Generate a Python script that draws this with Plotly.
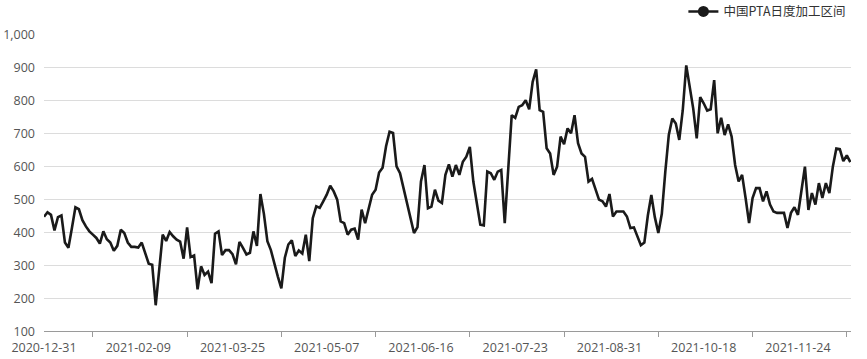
import plotly.graph_objects as go

# Daily PTA processing spread (trading days)
values = [
    446, 460, 452, 405, 445, 450, 368, 352, 412, 475, 469, 436, 417, 402, 392, 382, 365, 402, 378, 368,
    343, 358, 407, 397, 368, 355, 355, 353,
    368, 333, 304, 301, 178, 285, 392, 373, 400, 387, 377, 371, 319, 414, 324, 329, 226, 296, 270, 280,
    245, 395, 402, 330, 345, 345, 333,
    302, 370, 352, 332, 337, 402, 358, 515, 455, 372, 345, 302, 265, 229, 322, 362, 375, 327, 344, 335,
    392, 312, 442, 478, 473, 493, 513, 540,
    523, 498, 432, 427, 392, 407, 410, 377, 468, 427, 475, 513, 528, 580, 595, 660, 704, 700, 599, 578,
    533, 490, 445, 397, 415, 553, 603,
    472, 477, 528, 495, 488, 573, 605, 568, 603, 573, 613, 628, 658, 553, 488, 422, 420, 583, 578, 558,
    583, 588, 427, 593, 754, 746, 779, 784, 799, 772, 855, 893, 769, 764, 654, 638, 573, 598, 689, 666,
    714, 699, 754, 669, 638, 628, 553, 561, 528, 498,
    493, 477, 515, 447, 462, 462, 462, 447, 412, 414, 385, 360, 368, 450, 512, 445, 397, 455, 583, 694,
    744, 729, 679, 769, 905, 840, 774, 684, 809, 790, 768, 772, 860, 699, 746, 694, 726, 689, 603, 553,
    573, 503, 427, 503, 533, 533, 493, 523, 483, 462, 458, 458, 458, 412, 458, 475, 452, 525, 598, 467,
    518, 483, 548, 503, 548, 518, 598, 653, 651, 615, 632, 612,
]
tick_labels = ["2020-12-31", "2021-02-09", "2021-03-25", "2021-05-07", "2021-06-16",
               "2021-07-23", "2021-08-31", "2021-10-18", "2021-11-24"]
label_step = 27
series_name = "中国PTA日度加工区间"

x_idx = list(range(len(values)))
tick_idx = [i * label_step for i in range(len(tick_labels))]

fig = go.Figure()
fig.add_trace(go.Scatter(
    x=x_idx, y=values, mode="lines", showlegend=False,
    line=dict(color="#1a1a1a", width=2.6), hoverinfo="skip",
))
# legend entry (line with dot)
fig.add_trace(go.Scatter(
    x=[None], y=[None], mode="lines+markers", name=series_name,
    line=dict(color="#1a1a1a", width=2.6), marker=dict(color="#1a1a1a", size=11),
))

tick_font = dict(size=12.5, color="#555555", family="Open Sans, Noto Sans, sans-serif")

fig.update_layout(
    width=867, height=359,
    margin=dict(l=44, r=16, t=34, b=28, autoexpand=False),
    paper_bgcolor="white", plot_bgcolor="white",
    font=dict(family="Noto Sans CJK SC, Noto Sans, sans-serif", size=13, color="#555555"),
    legend=dict(
        orientation="h", xref="container", yref="container",
        x=0.982, xanchor="right", y=0.967, yanchor="middle",
        font=dict(size=12.5, color="#333333", family="Noto Sans CJK SC"),
        bgcolor="rgba(0,0,0,0)", itemwidth=30,
    ),
    xaxis=dict(
        range=[0, len(values) - 1 + 0.2],
        tickmode="array", tickvals=tick_idx, ticktext=tick_labels,
        ticks="", showgrid=False, zeroline=False, ticklabelstandoff=5,
        showline=True, linecolor="#9a9a9a", linewidth=1,
        tickfont=tick_font,
        minor=dict(ticks="outside", tickmode="linear", tick0=14, dtick=label_step,
                   ticklen=5, tickcolor="#9a9a9a", tickwidth=1, showgrid=False),
    ),
    yaxis=dict(
        range=[100, 1000], tickmode="linear", tick0=100, dtick=100,
        tickformat=",d", showgrid=True, gridcolor="#dcdcdc", gridwidth=1,
        zeroline=False, showline=False, ticks="", ticklabelstandoff=8,
        ticklabelshift=1, tickfont=tick_font,
    ),
)

fig.write_html("out.html", config={"displayModeBar": False},
               post_script="document.body.style.margin='0';")
